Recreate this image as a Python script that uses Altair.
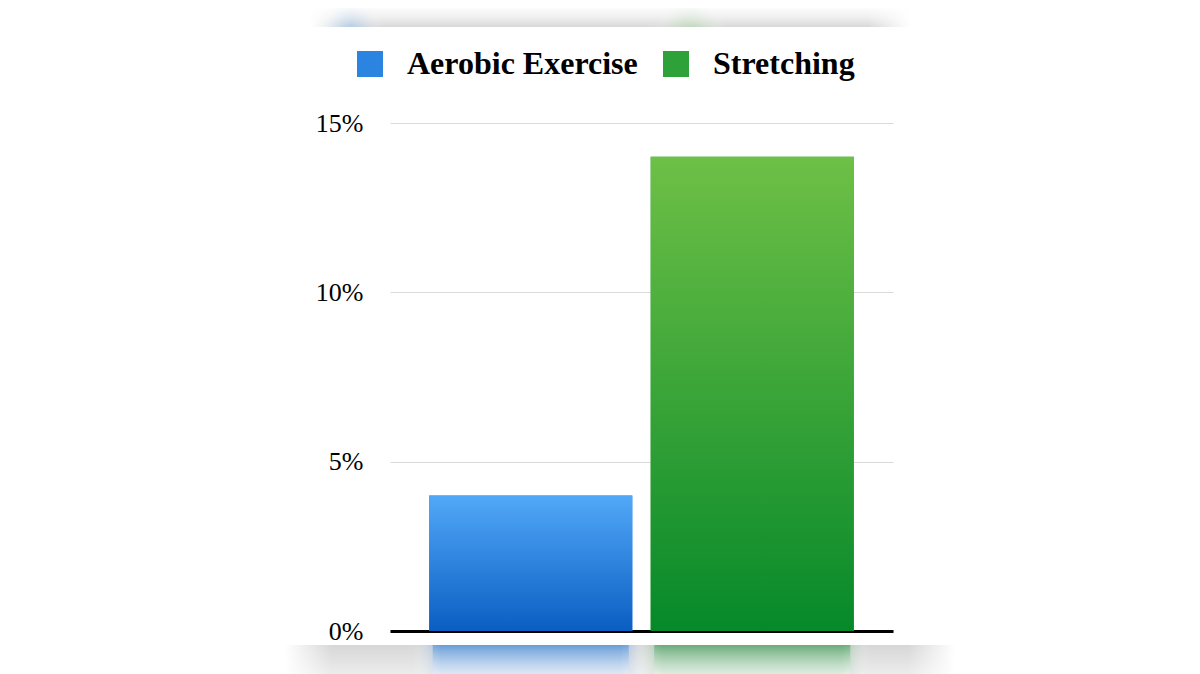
import altair as alt
import pandas as pd

categories = ["Aerobic Exercise", "Stretching"]
values = [0.04, 0.14]
tick_values = [0, 0.05, 0.10, 0.15]
top_colors = ["#52a8f8", "#6ec046"]
bottom_colors = ["#0a5ec2", "#06892a"]
mid_colors = ["#2b84e0", "#2ea238"]
reflect_top = ["#4a8ed8", "#4a9f5e"]
reflect_bottom = ["#cfdff3", "#d2e8d6"]
halo_colors = ["rgba(90,150,220,0.55)", "rgba(90,170,110,0.55)"]
blob_colors = ["rgba(120,175,235,0.55)", "rgba(140,205,130,0.55)"]

df = pd.DataFrame({"category": categories, "value": values})

xscale = alt.Scale(domain=categories, paddingInner=0.083, paddingOuter=0.177)
yscale = alt.Scale(domain=[0, 0.15], nice=False, zero=True)

xenc = alt.X("category:N", scale=xscale,
             axis=alt.Axis(title=None, labels=False, ticks=False, domain=True,
                           domainColor="#000000", domainWidth=3, grid=False))
yenc = alt.Y("value:Q", scale=yscale,
             axis=alt.Axis(title=None, values=tick_values, format=".0%",
                           domain=False, ticks=False, labelPadding=27,
                           labelFont="Liberation Serif", labelFontSize=26,
                           labelColor="#000000", gridColor="#d9d9d9", gridWidth=1))


def grad(stops, horizontal=False):
    return alt.LinearGradient(gradient="linear",
                              stops=[alt.GradientStop(color=c, offset=o) for o, c in stops],
                              x1=0, x2=1 if horizontal else 0, y1=0, y2=0 if horizontal else 1)


def radial(color):
    return alt.RadialGradient(gradient="radial",
                              stops=[alt.GradientStop(color=color, offset=0),
                                     alt.GradientStop(color="rgba(255,255,255,0)", offset=1)],
                              x1=0.5, y1=0.8, r1=0, x2=0.5, y2=0.8, r2=0.5)


gray_h = grad([(0, "rgba(215,215,215,0)"), (0.07, "rgba(215,215,215,1)"),
               (0.93, "rgba(215,215,215,1)"), (1, "rgba(215,215,215,0)")], horizontal=True)

one = pd.DataFrame({"k": [0]})


def rect(fill, x, x2, y, y2):
    return alt.Chart(one).mark_rect(fill=fill).encode(
        x=alt.value(x), x2=alt.value(x2), y=alt.value(y), y2=alt.value(y2))


top_gray = rect(gray_h, -80, 520, -117, -96)
top_fade = rect(grad([(0, "rgba(255,255,255,1)"), (0.55, "rgba(255,255,255,0.6)"),
                      (1, "rgba(255,255,255,0.05)")]), -80, 520, -117, -96)
blue_blob = rect(radial(blob_colors[0]), -75, -5, -125, -96)
green_blob = rect(radial(blob_colors[1]), 262, 338, -125, -96)
bottom_gray = rect(gray_h, -105, 565, 522, 552)
bottom_fade = rect(grad([(0, "rgba(255,255,255,0)"), (1, "rgba(255,255,255,0.55)")]),
                   -105, 565, 522, 552)

base = alt.Chart(df).mark_bar().encode(
    x=xenc, y=yenc,
    color=alt.Color("category:N",
                    scale=alt.Scale(domain=categories, range=mid_colors),
                    legend=alt.Legend(title=None, orient="none", legendX=-36, legendY=-75,
                                      direction="horizontal", symbolType="square",
                                      symbolSize=676, symbolStrokeWidth=0,
                                      labelFont="Liberation Serif", labelFontWeight="bold",
                                      labelFontSize=32, labelColor="#000000",
                                      labelOffset=21, columnPadding=22, labelLimit=400)),
)

layers = [top_gray, top_fade, blue_blob, green_blob, bottom_gray, base]
for i, c in enumerate(categories):
    g = grad([(0, top_colors[i]), (1, bottom_colors[i])])
    layers.append(
        alt.Chart(df).transform_filter(alt.datum.category == c)
        .mark_bar(color=g).encode(x=alt.X("category:N", scale=xscale),
                                  y=alt.Y("value:Q", scale=yscale))
    )
    hg = grad([(0, "rgba(255,255,255,0)"), (0.12, halo_colors[i]),
               (0.88, halo_colors[i]), (1, "rgba(255,255,255,0)")], horizontal=True)
    layers.append(
        alt.Chart(df).transform_filter(alt.datum.category == c)
        .mark_bar(color=hg, width=236).encode(
            x=alt.X("category:N", scale=xscale),
            y=alt.datum(-0.0041, scale=yscale),
            y2=alt.datum(-0.0128))
    )
    rg = grad([(0, reflect_top[i]), (1, reflect_bottom[i])])
    layers.append(
        alt.Chart(df).transform_filter(alt.datum.category == c)
        .mark_bar(color=rg, opacity=0.6, width=196).encode(
            x=alt.X("category:N", scale=xscale),
            y=alt.datum(-0.0041, scale=yscale),
            y2=alt.datum(-0.0128))
    )
layers.append(bottom_fade)

chart = alt.layer(*layers).properties(
    width=503, height=508,
    background="#ffffff",
    autosize=alt.AutoSizeParams(type="none"),
    padding={"left": 382, "top": 115, "right": 290, "bottom": 60},
).configure_view(strokeOpacity=0, stroke="transparent")

chart.save("out.html", embed_options={"renderer": "svg", "actions": False})
